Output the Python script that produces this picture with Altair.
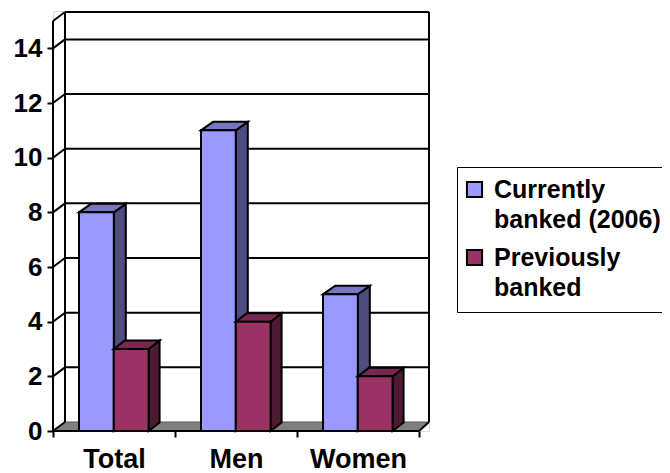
import altair as alt
import pandas as pd

categories = ["Total", "Men", "Women"]
series_names = ["Currently banked (2006)", "Previously banked"]
currently = [8, 11, 5]
previously = [3, 4, 2]
y_ticks = [0, 2, 4, 6, 8, 10, 12, 14]
front_colors = ["#9999FF", "#993366"]
side_colors = ["#4D4D80", "#4D1A33"]
top_colors = ["#7777BF", "#772850"]

FONT = "Liberation Sans"
INK = "#000000"
LW = 2
FS = 26
PX_X = 122.0      # pixels per category
PX_Y = 27.33      # pixels per value unit
PLOT_W = 376
PLOT_H = 420
X_MAX = PLOT_W / PX_X
Y_MAX = PLOT_H / PX_Y
Y_TOP = 15
WALL_DX = 12 / PX_X
WALL_DY = 9 / PX_Y
WALL_RIGHT = X_MAX
FRONT_RIGHT = 3.0
BAR_W = 34.8 / PX_X
BAR_START = 26 / PX_X
DEPTHS = [12 / PX_X, 11 / PX_X]
BAR_DY = 8.5 / PX_Y

xs = alt.Scale(domain=[0, X_MAX], nice=False, zero=False)
ys = alt.Scale(domain=[0, Y_MAX], nice=False, zero=False)

label_expr = "datum.value < 3 ? ['Total', 'Men', 'Women'][datum.value] : ''"
x_axis = alt.Axis(
    values=[0, 1, 2, 3], labelExpr=label_expr, labelOffset=PX_X / 2,
    labelFont=FONT, labelFontWeight="bold", labelFontSize=27, labelColor=INK,
    labelPadding=9, labelFlush=False, labelOverlap=False, title=None,
    tickColor=INK, tickWidth=LW, tickSize=6, domain=False, grid=False,
)
y_axis = alt.Axis(
    values=y_ticks, labelFont=FONT, labelFontWeight="bold", labelFontSize=FS,
    labelColor=INK, labelPadding=5, tickColor=INK, tickWidth=LW, tickSize=6,
    domain=False, grid=False, labelOverlap=False, labelFlush=False, title=None,
)


def X(f="x"):
    return alt.X(f"{f}:Q", scale=xs, axis=x_axis)


def Y(f="y"):
    return alt.Y(f"{f}:Q", scale=ys, axis=y_axis)


def rule_layer(rows, width=LW, color=INK):
    df = pd.DataFrame(rows, columns=["x", "x2", "y", "y2"])
    return alt.Chart(df).mark_rule(stroke=color, strokeWidth=width).encode(
        x=X(), x2="x2:Q", y=Y(), y2="y2:Q"
    )


# floor
floor_df = pd.DataFrame({
    "y": [0, WALL_DY],
    "x": [0, WALL_DX],
    "x2": [FRONT_RIGHT, WALL_RIGHT],
})
floor = alt.Chart(floor_df).mark_area(orient="horizontal", fill="#808080").encode(
    y=Y(), x=X(), x2="x2:Q"
)

# walls, gridlines and connectors
wall_rows = [
    [0, 0, 0, Y_TOP],
    [WALL_DX, WALL_DX, WALL_DY, Y_TOP + WALL_DY],
    [WALL_RIGHT, WALL_RIGHT, WALL_DY, Y_TOP + WALL_DY],
    [WALL_DX, WALL_RIGHT, Y_TOP + WALL_DY, Y_TOP + WALL_DY],
    [0, WALL_DX, Y_TOP, Y_TOP + WALL_DY],
    [0, FRONT_RIGHT, 0, 0],
    [FRONT_RIGHT, WALL_RIGHT, 0, WALL_DY],
]
for v in y_ticks:
    wall_rows.append([0, WALL_DX, v, v + WALL_DY])
    if v > 0:
        wall_rows.append([WALL_DX, WALL_RIGHT, v + WALL_DY, v + WALL_DY])
walls = rule_layer(wall_rows)
floor_back = rule_layer([[WALL_DX, WALL_RIGHT, WALL_DY, WALL_DY]], width=1, color="#555555")

layers = [floor, floor_back, walls]

for s, (name, values) in enumerate(zip(series_names, [currently, previously])):
    depth = DEPTHS[s]
    fronts, sides, tops = [], [], []
    for i, (cat, v) in enumerate(zip(categories, values)):
        a = i + BAR_START + s * BAR_W
        b = a + BAR_W
        fronts.append({"x": a, "x2": b, "y": 0, "y2": v, "series": name})
        sides.append({"id": i, "x": b, "y": 0, "y2": v})
        sides.append({"id": i, "x": b + depth, "y": BAR_DY, "y2": v + BAR_DY})
        tops.append({"id": i, "y": v, "x": a, "x2": b})
        tops.append({"id": i, "y": v + BAR_DY, "x": a + depth, "x2": b + depth})
    side = alt.Chart(pd.DataFrame(sides)).mark_area(
        orient="vertical", fill=side_colors[s], stroke=INK, strokeWidth=LW, strokeJoin="miter"
    ).encode(x=X(), y=Y(), y2="y2:Q", detail="id:N")
    top = alt.Chart(pd.DataFrame(tops)).mark_area(
        orient="horizontal", fill=top_colors[s], stroke=INK, strokeWidth=LW, strokeJoin="miter"
    ).encode(y=Y(), x=X(), x2="x2:Q", detail="id:N")
    front = alt.Chart(pd.DataFrame(fronts)).mark_rect(
        stroke=INK, strokeWidth=LW
    ).encode(
        x=X(), x2="x2:Q", y=Y(), y2="y2:Q",
        color=alt.Color("series:N", scale=alt.Scale(domain=series_names, range=front_colors),
                        legend=alt.Legend(
                            title=None, orient="none", legendX=404, legendY=156,
                            padding=10, strokeColor=INK, labelFont=FONT,
                            labelFontWeight="bold", labelFontSize=25, labelColor=INK,
                            labelLimit=1000, symbolType="square", symbolSize=230,
                            symbolStrokeColor=INK, symbolStrokeWidth=LW, symbolOpacity=1,
                            symbolOffset=-5, rowPadding=11, labelOffset=7,
                            labelExpr="datum.label == 'Previously banked' ? ['Previously', 'banked'] : ['Currently', 'banked (2006)']",
                        )),
    )
    layers += [side, top, front]

chart = alt.layer(*layers).resolve_scale(color="shared").properties(
    width=PLOT_W, height=PLOT_H,
    autosize=alt.AutoSizeParams(type="none"),
    padding={"left": 45, "top": 3, "right": 233, "bottom": 41},
).configure_view(stroke=None).configure_legend(strokeWidth=LW).configure(
    style={"guide-label": {"lineHeight": 30.7}}
)

chart.save("out.html", embed_options={"renderer": "svg", "actions": False})
